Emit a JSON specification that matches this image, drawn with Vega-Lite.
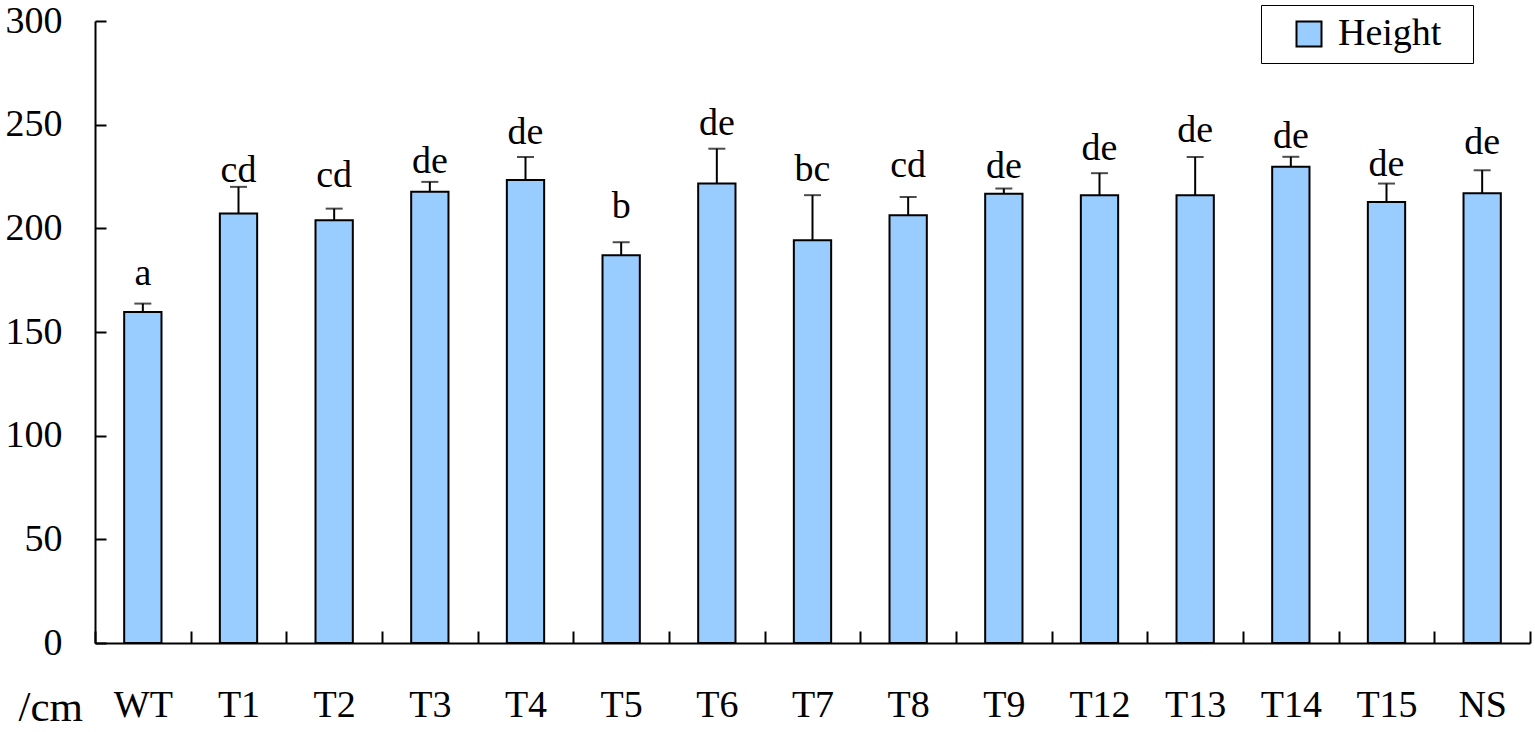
{
  "$schema": "https://vega.github.io/schema/vega-lite/v6.json",
  "width": 1435,
  "height": 622,
  "autosize": {"type": "none"},
  "padding": {"left": 95, "top": 21, "right": 5, "bottom": 89},
  "background": "white",
  "config": {
    "view": {"stroke": null},
    "axis": {"grid": false, "domainColor": "black", "tickColor": "black", "domainWidth": 2, "tickWidth": 2, "labelColor": "black", "labelFont": "Liberation Serif", "labelFontSize": 38}
  },
  "data": {
    "values": [
      {"group": "WT", "height": 159.7, "upper": 163.7, "sig": "a", "labelPos": 172.7, "series": "Height"},
      {"group": "T1", "height": 207.1, "upper": 220.0, "sig": "cd", "labelPos": 222.5, "series": "Height"},
      {"group": "T2", "height": 203.9, "upper": 209.5, "sig": "cd", "labelPos": 220.1, "series": "Height"},
      {"group": "T3", "height": 217.6, "upper": 222.4, "sig": "de", "labelPos": 226.9, "series": "Height"},
      {"group": "T4", "height": 223.3, "upper": 234.4, "sig": "de", "labelPos": 240.7, "series": "Height"},
      {"group": "T5", "height": 187.0, "upper": 193.3, "sig": "b", "labelPos": 204.9, "series": "Height"},
      {"group": "T6", "height": 221.6, "upper": 238.4, "sig": "de", "labelPos": 245.1, "series": "Height"},
      {"group": "T7", "height": 194.3, "upper": 216.0, "sig": "bc", "labelPos": 222.9, "series": "Height"},
      {"group": "T8", "height": 206.3, "upper": 215.1, "sig": "cd", "labelPos": 224.6, "series": "Height"},
      {"group": "T9", "height": 216.7, "upper": 219.2, "sig": "de", "labelPos": 224.2, "series": "Height"},
      {"group": "T12", "height": 216.0, "upper": 226.6, "sig": "de", "labelPos": 233.0, "series": "Height"},
      {"group": "T13", "height": 216.0, "upper": 234.4, "sig": "de", "labelPos": 241.6, "series": "Height"},
      {"group": "T14", "height": 229.7, "upper": 234.5, "sig": "de", "labelPos": 238.9, "series": "Height"},
      {"group": "T15", "height": 212.7, "upper": 221.6, "sig": "de", "labelPos": 225.4, "series": "Height"},
      {"group": "NS", "height": 216.9, "upper": 228.0, "sig": "de", "labelPos": 236.0, "series": "Height"}
    ]
  },
  "encoding": {
    "x": {
      "field": "group", "type": "nominal", "sort": null,
      "scale": {"paddingInner": 0, "paddingOuter": 0},
      "axis": {"title": null, "labelAngle": 0, "tickBand": "extent", "tickSize": -12, "labelPadding": 85, "labelBaseline": "alphabetic"}
    }
  },
  "layer": [
    {
      "mark": {"type": "bar", "width": {"band": 0.39}, "stroke": "black", "strokeWidth": 2},
      "encoding": {
        "y": {
          "field": "height", "type": "quantitative",
          "scale": {"domain": [0, 300], "nice": false},
          "axis": {"values": [0, 50, 100, 150, 200, 250, 300], "tickSize": -11, "labelPadding": 44, "title": "/cm", "titleAngle": 0, "titleAlign": "left", "titleBaseline": "alphabetic", "titleX": -77, "titleY": 699, "titleFont": "Liberation Serif", "titleFontSize": 43, "titleFontWeight": "normal", "titleColor": "black"}
        },
        "color": {
          "field": "series", "type": "nominal",
          "scale": {"range": ["#99CCFF"]},
          "legend": {"title": "--", "titleOrient": "right", "titlePadding": 0, "titleColor": "white", "titleFont": "Liberation Serif", "titleFontSize": 33, "titleFontWeight": "normal", "orient": "none", "legendX": 1166, "legendY": -16, "strokeColor": "black", "padding": 10, "symbolType": "square", "symbolSize": 625, "symbolStrokeColor": "black", "symbolStrokeWidth": 2, "symbolOffset": 19, "labelOffset": 10, "labelFont": "Liberation Serif", "labelFontSize": 38, "labelColor": "black"}
        }
      }
    },
    {
      "mark": {"type": "rule", "color": "black", "strokeWidth": 2},
      "encoding": {"y": {"field": "height", "type": "quantitative"}, "y2": {"field": "upper"}}
    },
    {
      "mark": {"type": "tick", "color": "black", "size": 17, "thickness": 2},
      "encoding": {"y": {"field": "upper", "type": "quantitative"}}
    },
    {
      "mark": {"type": "text", "font": "Liberation Serif", "fontSize": 38, "color": "black", "baseline": "alphabetic", "align": "center"},
      "encoding": {"y": {"field": "labelPos", "type": "quantitative"}, "text": {"field": "sig"}}
    }
  ]
}
